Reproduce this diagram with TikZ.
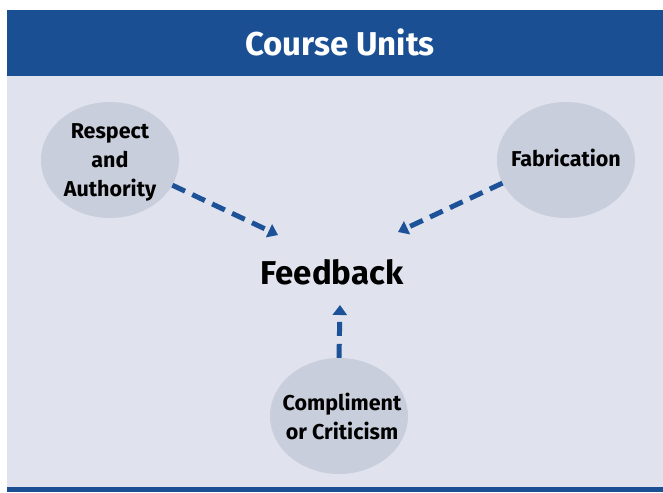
\documentclass[tikz,border=0pt]{standalone}
\usepackage{fontspec}
\setmainfont{Fira Sans}
\usetikzlibrary{arrows.meta,shapes.geometric}
\definecolor{hdrblue}{HTML}{1A5093}
\definecolor{bgpanel}{HTML}{E0E3EE}
\definecolor{ellfill}{HTML}{C8CEDB}
\definecolor{arrblue}{HTML}{1D5298}
\begin{document}
\begin{tikzpicture}[x=1pt,y=-1pt,
  unit/.style={ellipse,fill=ellfill,minimum width=138pt,minimum height=116pt,inner sep=0pt},
  unittext/.style={font=\fontsize{21.5}{29}\selectfont\bfseries,align=center,text=black,inner sep=0pt},
  flow/.style={draw=arrblue,line width=5pt,dash pattern=on 14pt off 8pt,
    -{Triangle[width=14pt,length=10pt]}}
]
\useasboundingbox (0,0) rectangle (663,492);
\fill[white] (0,0) rectangle (663,492);
\fill[bgpanel] (7,76) rectangle (663,488);
\fill[hdrblue] (7,10) rectangle (663,76);
\fill[hdrblue] (7,487) rectangle (663,492);
\node[text=white,font=\fontsize{33}{38}\selectfont\bfseries] (title) at (340,42) {Course Units};
\node[unit] (resp) at (110,160) {};
\node[unit] (fab) at (566,160) {};
\node[unit] (comp) at (339,416) {};
\node[unittext] (respT) at (110,162) {Respect\\and\\Authority};
\node[unittext] (fabT) at (566,158) {Fabrication};
\node[unittext] (compT) at (342,416) {Compliment\\or Criticism};
\node[font=\fontsize{33}{38}\selectfont\bfseries] (fb) at (332,272) {Feedback};
\coordinate (fbA) at (278,235);
\coordinate (fbB) at (398,232);
\coordinate (fbC) at (340,305);
\draw[flow] (resp.-22) -- (fbA);
\draw[flow] (fab.-160) -- (fbB);
\draw[flow] (comp.north) -- (fbC);
\end{tikzpicture}
\end{document}
